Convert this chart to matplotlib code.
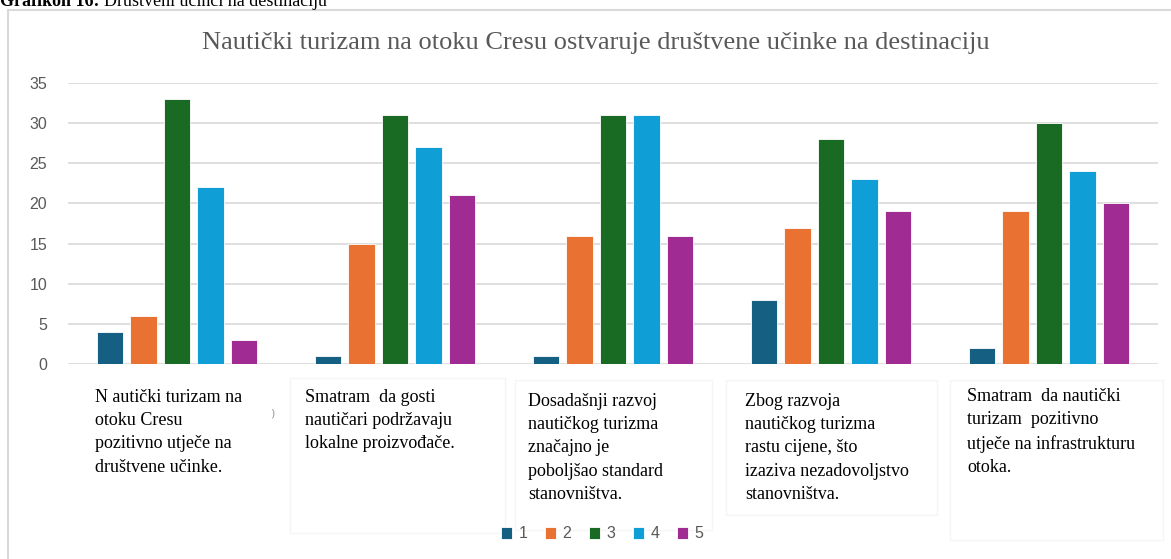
import matplotlib.pyplot as plt
from matplotlib.patches import Rectangle
import numpy as np

# data
series_names = ['1', '2', '3', '4', '5']
values = [
    [4, 1, 1, 8, 2],      # 1
    [6, 15, 16, 17, 19],  # 2
    [33, 31, 31, 28, 30], # 3
    [22, 27, 31, 23, 24], # 4
    [3, 21, 16, 19, 20],  # 5
]
categories = [
    'N autički turizam na\notoku Cresu\npozitivno utječe na\ndruštvene učinke.',
    'Smatram  da gosti\nnautičari podržavaju\nlokalne proizvođače.',
    'Dosadašnji razvoj\nnautičkog turizma\nznačajno je\npoboljšao standard\nstanovništva.',
    'Zbog razvoja\nnautičkog turizma\nrastu cijene, što\nizaziva nezadovoljstvo\nstanovništva.',
    'Smatram  da nautički\nturizam  pozitivno\nutječe na infrastrukturu\notoka.',
]
colors = ['#156082', '#E97132', '#196B24', '#0F9ED5', '#A02B93']
title = 'Nautički turizam na otoku Cresu ostvaruje društvene učinke na destinaciju'

W, H = 1171, 559
fig = plt.figure(figsize=(W / 100, H / 100), dpi=100)


def fx(px):
    return px / W


def fy(py):
    return 1 - py / H


# outer chart frame (cut by image edges)
fig.patches.append(Rectangle((fx(8), fy(575)), fx(1180) - fx(8), fy(10) - fy(575),
                             transform=fig.transFigure, fill=False,
                             edgecolor='#d9d9d9', lw=1.5))

# caption, mostly cut off at the top
cap = fig.text(0.0, fy(6), 'Grafikon 16:', fontfamily='Liberation Serif',
               fontweight='bold', fontsize=13, va='baseline', ha='left')
fig.canvas.draw()
ext = cap.get_window_extent()
fig.text((ext.x1 + 4) / W, fy(6), 'Društveni učinci na destinaciju',
         fontfamily='Liberation Serif', fontsize=13, va='baseline', ha='left')

fig.text(fx(596), fy(43), title, fontfamily='Liberation Serif', fontsize=19,
         color='#595959', ha='center', va='center')

ax = fig.add_axes([fx(68), fy(364), fx(1158) - fx(68), fy(83) - fy(364)])
x = np.arange(len(categories))
step = 0.154
width = 0.122
for i, (name, vals) in enumerate(zip(series_names, values)):
    ax.bar(x + (i - 2) * step, vals, width, color=colors[i], label=name,
           edgecolor='white', linewidth=0.6, zorder=3)

ax.set_xlim(-0.5, 4.5)
ax.set_ylim(0, 35)
ax.set_yticks(np.arange(0, 36, 5))
ax.set_xticks([])
ax.grid(axis='y', color='#d9d9d9', lw=1.2, zorder=0)
for s in ax.spines.values():
    s.set_visible(False)
ax.tick_params(axis='y', length=0, pad=15, labelsize=11.5, labelcolor='#595959')
for t in ax.get_yticklabels():
    t.set_fontfamily('Liberation Sans')

# faint text boxes behind the category labels
boxes = [(290, 378, 505, 533), (515, 380, 712, 530), (726, 380, 937, 515),
         (950, 380, 1163, 540)]
for x0, y0, x1, y1 in boxes:
    fig.patches.append(Rectangle((fx(x0), fy(y1)), fx(x1) - fx(x0), fy(y0) - fy(y1),
                                 transform=fig.transFigure, fill=False,
                                 edgecolor='#f5f5f5', lw=1))

label_pos = [(95, 389), (305, 389), (528, 393), (745, 393), (967, 388)]
for (px, py), lab in zip(label_pos, categories):
    fig.text(fx(px), fy(py), lab, fontfamily='Liberation Serif', fontsize=13,
             linespacing=1.48, ha='left', va='top', color='black')
fig.text(fx(272), fy(413), ')', fontsize=8, color='#999999', ha='center', va='center')

fig.legend(loc='center', bbox_to_anchor=(fx(602), fy(534)), ncol=5, frameon=False,
           handlelength=0.7, handleheight=0.7, handletextpad=0.4, columnspacing=1.1,
           prop={'family': 'Liberation Sans', 'size': 11.5}, labelcolor='#595959')

fig.savefig('out.png', dpi=100)
